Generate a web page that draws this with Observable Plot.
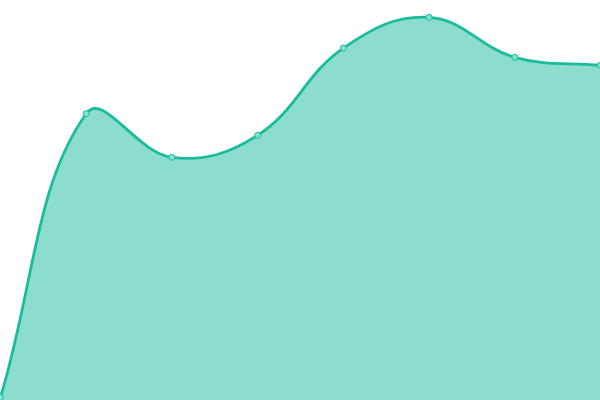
<!DOCTYPE html>
<html>
<head>
<meta charset="utf-8">
<script src="https://cdn.jsdelivr.net/npm/d3@7"></script>
<script src="https://cdn.jsdelivr.net/npm/@observablehq/plot@0.6"></script>
<style>
html,body{margin:0;padding:0;background:#fff;overflow:hidden;}
#chart svg{display:block;}
</style>
</head>
<body>
<div id="chart"></div>
<script>
const xIndex = [0, 1, 2, 3, 4, 5, 6, 7];
const values = [0.8, 71.7, 60.8, 66.3, 88.1, 95.8, 85.8, 83.8];

const data = xIndex.map((x, i) => ({x, y: values[i]}));

// Tension-based spline (same control-point rule as a 0.4-tension bezier chart line)
function tensionSpline(tension) {
  return function(context) {
    return {
      _context: context,
      areaStart() { this._line = 0; },
      areaEnd() { this._line = NaN; },
      lineStart() { this._pts = []; },
      point(x, y) { this._pts.push([+x, +y]); },
      lineEnd() {
        const p = this._pts, n = p.length, c = this._context;
        if (n) {
          if (this._line) c.lineTo(p[0][0], p[0][1]); else c.moveTo(p[0][0], p[0][1]);
          const cps = p.map((cur, i) => {
            const prev = p[Math.max(i - 1, 0)], next = p[Math.min(i + 1, n - 1)];
            const d01 = Math.hypot(cur[0] - prev[0], cur[1] - prev[1]);
            const d12 = Math.hypot(next[0] - cur[0], next[1] - cur[1]);
            let s01 = d01 / (d01 + d12), s12 = d12 / (d01 + d12);
            if (isNaN(s01)) s01 = 0;
            if (isNaN(s12)) s12 = 0;
            const fa = tension * s01, fb = tension * s12;
            return {
              prev: [cur[0] - fa * (next[0] - prev[0]), cur[1] - fa * (next[1] - prev[1])],
              next: [cur[0] + fb * (next[0] - prev[0]), cur[1] + fb * (next[1] - prev[1])]
            };
          });
          for (let i = 1; i < n; ++i) {
            const a = cps[i - 1].next, b = cps[i].prev;
            c.bezierCurveTo(a[0], a[1], b[0], b[1], p[i][0], p[i][1]);
          }
        }
        if (this._line || (this._line !== 0 && n === 1)) c.closePath();
        this._line = 1 - this._line;
      }
    };
  };
}
const curve = tensionSpline(0.4);

const chart = Plot.plot({
  width: 600,
  height: 400,
  margin: 0,
  x: {domain: [0, 7], range: [0, 600], axis: null},
  y: {domain: [0, 100], range: [400, 0], axis: null},
  marks: [
    Plot.areaY(data, {x: "x", y: "y", curve, fill: "#1abc9c", fillOpacity: 0.5}),
    Plot.lineY(data, {x: "x", y: "y", curve, stroke: "#1abc9c", strokeWidth: 2.8}),
    Plot.dot(data, {x: "x", y: "y", r: 3, fill: "#88e0cf", stroke: "#1abc9c", strokeWidth: 1})
  ]
});
chart.style.overflow = "visible";
document.getElementById("chart").appendChild(chart);
</script>
</body>
</html>
